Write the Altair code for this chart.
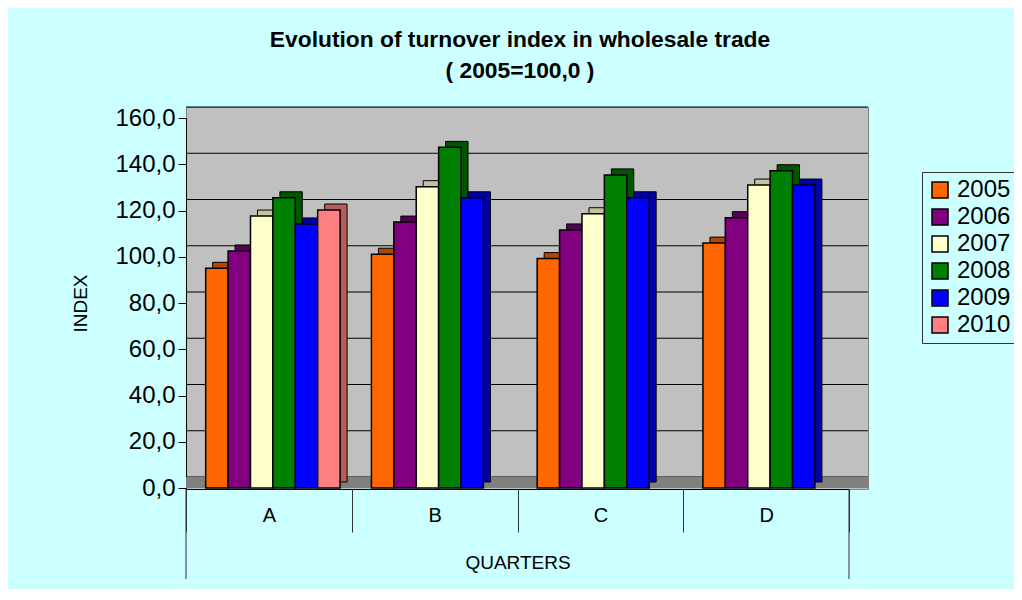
import altair as alt
import pandas as pd

quarters = ["A", "B", "C", "D"]
years = ["2005", "2006", "2007", "2008", "2009", "2010"]
v2005 = [95.0, 101.1, 99.2, 105.9]
v2006 = [102.5, 115.0, 111.6, 116.9]
v2007 = [117.6, 130.3, 118.6, 131.0]
v2008 = [125.5, 147.3, 135.4, 137.2]
v2009 = [114.2, 125.5, 125.5, 131.0]
v2010 = [120.2, None, None, None]
front_colors = ["#FF6600", "#800080", "#FFFFCC", "#008000", "#0000FF", "#FF8080"]
depth_colors = ["#B34700", "#550055", "#C4C49C", "#005500", "#0000A8", "#B85C5C"]
y_ticks = [0, 20, 40, 60, 80, 100, 120, 140, 160]

series = [v2005, v2006, v2007, v2008, v2009, v2010]
rows = []
for yi, (yr, vals) in enumerate(zip(years, series)):
    for q, v in zip(quarters, vals):
        if v is not None:
            rows.append({"quarter": q, "year": yr, "value": v, "depth": depth_colors[yi]})
df = pd.DataFrame(rows)

FONT = "Liberation Sans"
BAND = 663 / 4


def x_enc(band_position=None):
    kw = {}
    if band_position is not None:
        kw["bandPosition"] = band_position
    return alt.X(
        "quarter:N",
        sort=quarters,
        scale=alt.Scale(domain=quarters, range=[0, 663], paddingInner=0, paddingOuter=0),
        axis=alt.Axis(
            title="QUARTERS",
            titleFont=FONT,
            titleFontSize=19,
            titleFontWeight="normal",
            titleColor="black",
            titleY=73,
            titleBaseline="middle",
            labelFont=FONT,
            labelFontSize=20,
            labelColor="black",
            labelAngle=0,
            labelPadding=-27,
            tickBand="extent",
            tickColor="#333333",
            tickSize=43,
            domainColor="black",
            domainWidth=1,
            grid=False,
        ),
        **kw,
    )


def xo_enc(shift):
    return alt.XOffset(
        "year:N",
        sort=years,
        scale=alt.Scale(domain=years, paddingInner=0, paddingOuter=0.7, range=[shift, shift + BAND]),
    )


def y_enc(field):
    return alt.Y(
        field,
        scale=alt.Scale(domain=[0, 160], range=[381, 11], nice=False, zero=True),
        axis=alt.Axis(
            values=y_ticks,
            labelExpr="replace(format(datum.value, '.1f'), '.', ',')",
            labelFont=FONT,
            labelFontSize=24,
            labelColor="black",
            labelPadding=3,
            tickSize=8,
            tickColor="black",
            domainColor="black",
            grid=False,
            title="INDEX",
            titleFont=FONT,
            titleFontSize=19,
            titleFontWeight="normal",
            titleColor="black",
            titlePadding=24,
        ),
    )


grid = alt.Chart(pd.DataFrame({"tick": y_ticks})).mark_rule(
    yOffset=-11, color="black", strokeWidth=1
).encode(y=y_enc("tick:Q"))

floor = alt.Chart(pd.DataFrame({"base": [0]})).mark_rect(
    color="#808080", y2Offset=-11
).encode(y=y_enc("base:Q"), y2=alt.Y2("base:Q"))

back = alt.Chart(df).mark_bar(yOffset=-6, stroke="black", strokeWidth=1).encode(
    x=x_enc(),
    xOffset=xo_enc(11),
    y=y_enc("value:Q"),
    fill=alt.Fill("depth:N", scale=None),
)

front = alt.Chart(df).mark_bar(stroke="black", strokeWidth=1.5).encode(
    x=x_enc(),
    xOffset=xo_enc(4),
    y=y_enc("value:Q"),
    fill=alt.Fill(
        "year:N",
        sort=years,
        scale=alt.Scale(domain=years, range=front_colors),
        legend=alt.Legend(
            title=None,
            orient="none",
            legendX=736,
            legendY=65,
            padding=6,
            strokeColor="#333333",
            fillColor="#CCFFFF",
            symbolType="square",
            symbolSize=256,
            symbolStrokeColor="black",
            symbolStrokeWidth=1.5,
            labelFont=FONT,
            labelFontSize=24,
            labelColor="black",
            labelOffset=5,
            rowPadding=3,
        ),
    ),
)

edge_left = alt.Chart(pd.DataFrame({"quarter": [quarters[0]]})).mark_rule(
    color="#333333", strokeWidth=1
).encode(x=x_enc(0), y=alt.value(382), y2=alt.value(472))

edge_right = alt.Chart(pd.DataFrame({"quarter": [quarters[-1]]})).mark_rule(
    color="#333333", strokeWidth=1
).encode(x=x_enc(1), y=alt.value(382), y2=alt.value(472))

chart = (
    alt.layer(grid, floor, back, front, edge_left, edge_right)
    .resolve_scale(xOffset="independent")
    .properties(
        width=682,
        height=382,
        autosize=alt.AutoSizeParams(type="none"),
        padding={"left": 178, "top": 99, "right": 146, "bottom": 100},
        background="#CCFFFF",
        title=alt.TitleParams(
            text=["Evolution of turnover index in wholesale trade", "( 2005=100,0 )"],
            font=FONT,
            fontSize=22.8,
            fontWeight="bold",
            color="black",
            anchor="middle",
            frame="group",
            dx=-7,
            offset=23,
            lineHeight=31,
        ),
    )
    .configure_view(fill="#C0C0C0", stroke="#808080")
)

chart.save("out.html", embed_options={"renderer": "svg", "actions": False})
